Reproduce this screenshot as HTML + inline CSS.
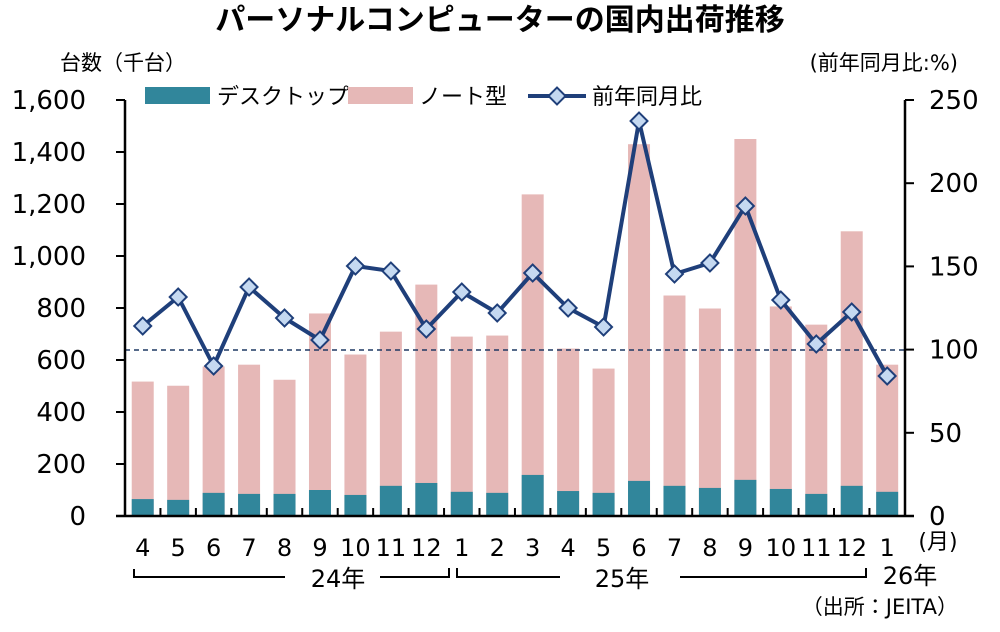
<!DOCTYPE html>
<html><head><meta charset="utf-8"><style>
body{margin:0;background:#fff;}
svg{display:block;font-family:"DejaVu Sans","Noto Sans CJK JP",sans-serif;}
</style></head><body>
<svg width="1000" height="632" viewBox="0 0 1000 632" xmlns="http://www.w3.org/2000/svg">
<text x="500" y="30" text-anchor="middle" font-size="30" font-weight="bold" fill="#000" font-family="Noto Sans CJK JP,sans-serif">パーソナルコンピューターの国内出荷推移</text>
<text x="60" y="70" font-size="21" fill="#000">台数（千台）</text>
<text x="958" y="70" text-anchor="end" font-size="21" fill="#000">(前年同月比:%)</text>
<g id="bars"></g>
<line x1="125" y1="350" x2="905" y2="350" stroke="#1f3864" stroke-width="1.5" stroke-dasharray="5,4"/>
<g stroke="#000" stroke-width="2.5" fill="none">
<line x1="125" y1="100" x2="125" y2="517"/>
<line x1="905" y1="100" x2="905" y2="517"/>
<line x1="116" y1="516" x2="914" y2="516"/>
</g>
<g id="ticks" stroke="#000" stroke-width="2"></g>
<g id="line"></g>
<g font-size="24" fill="#000" id="labels"></g>
<rect x="145" y="87" width="65" height="17" fill="#31869b"/>
<text x="217" y="104" font-size="22">デスクトップ</text>
<rect x="348" y="87" width="65" height="17" fill="#e6b8b7"/>
<text x="419" y="104" font-size="22">ノート型</text>
<line x1="528" y1="96" x2="586" y2="96" stroke="#1f3f7a" stroke-width="4"/>
<rect x="551" y="90" width="12" height="12" fill="#c5d9f1" stroke="#1f3f7a" stroke-width="2" transform="rotate(45 557 96)"/>
<text x="592" y="104" font-size="22">前年同月比</text>
<g stroke="#000" stroke-width="2" fill="none">
<polyline points="134,569 134,577 285,577"/>
<polyline points="380,577 449,577 449,568"/>
<polyline points="457,568 457,577 560,577"/>
<polyline points="680,577 866,577 866,568"/>
</g>
<text x="338" y="587" text-anchor="middle" font-size="24">24年</text>
<text x="622" y="587" text-anchor="middle" font-size="24">25年</text>
<text x="910" y="584" text-anchor="middle" font-size="24">26年</text>
<text x="938" y="549" text-anchor="middle" font-size="22">(月)</text>
<text x="958" y="614" text-anchor="end" font-size="21">（出所：JEITA）</text>
<script>
var tot=[517,501,575,582,524,779,621,709,890,690,694,1237,644,567,1430,848,798,1450,806,736,1095,582];
var desk=[65,62,89,85,85,100,81,116,127,93,89,158,96,89,135,116,108,139,104,85,116,93];
var ly=[326,297,366,287,318,340,266,271,329,292,313,273,308,327,121,274,263,206,300,344,312,376];
var mon=[4,5,6,7,8,9,10,11,12,1,2,3,4,5,6,7,8,9,10,11,12,1];
var ns="http://www.w3.org/2000/svg";
function el(t,a,p){var e=document.createElementNS(ns,t);for(var k in a)e.setAttribute(k,a[k]);document.getElementById(p).appendChild(e);return e;}
var s=35.45,x0=125,k=416/1600;
for(var i=0;i<22;i++){
 var cx=x0+s*(i+0.5);
 el('rect',{x:cx-11,y:516-tot[i]*k,width:22,height:tot[i]*k,fill:'#e6b8b7'},'bars');
 el('rect',{x:cx-11,y:516-desk[i]*k,width:22,height:desk[i]*k,fill:'#31869b'},'bars');
 var t=el('text',{x:cx,y:556,'text-anchor':'middle'},'labels');t.textContent=mon[i];
 if(i>0) el('line',{x1:x0+s*i,y1:516,x2:x0+s*i,y2:508},'ticks');
}
for(var j=0;j<=8;j++){
 var y=516-j*52;
 el('line',{x1:116,y1:y,x2:125,y2:y},'ticks');
 var t=el('text',{x:86,y:y+9,'text-anchor':'end','font-size':26},'labels');t.textContent=(j*200).toLocaleString('en-US');
}
for(var j=0;j<=5;j++){
 var y=516-j*83.2;
 el('line',{x1:905,y1:y,x2:914,y2:y},'ticks');
 var t=el('text',{x:929,y:y+9,'font-size':26},'labels');t.textContent=j*50;
}
var pts=ly.map(function(y,i){return (x0+s*(i+0.5))+','+y}).join(' ');
el('polyline',{points:pts,fill:'none',stroke:'#1f3f7a','stroke-width':4,'stroke-linejoin':'round'},'line');
ly.forEach(function(y,i){var cx=x0+s*(i+0.5);el('rect',{x:cx-6,y:y-6,width:12,height:12,fill:'#c5d9f1',stroke:'#1f3f7a','stroke-width':2,transform:'rotate(45 '+cx+' '+y+')'},'line');});
</script>
</svg>
</body></html>
